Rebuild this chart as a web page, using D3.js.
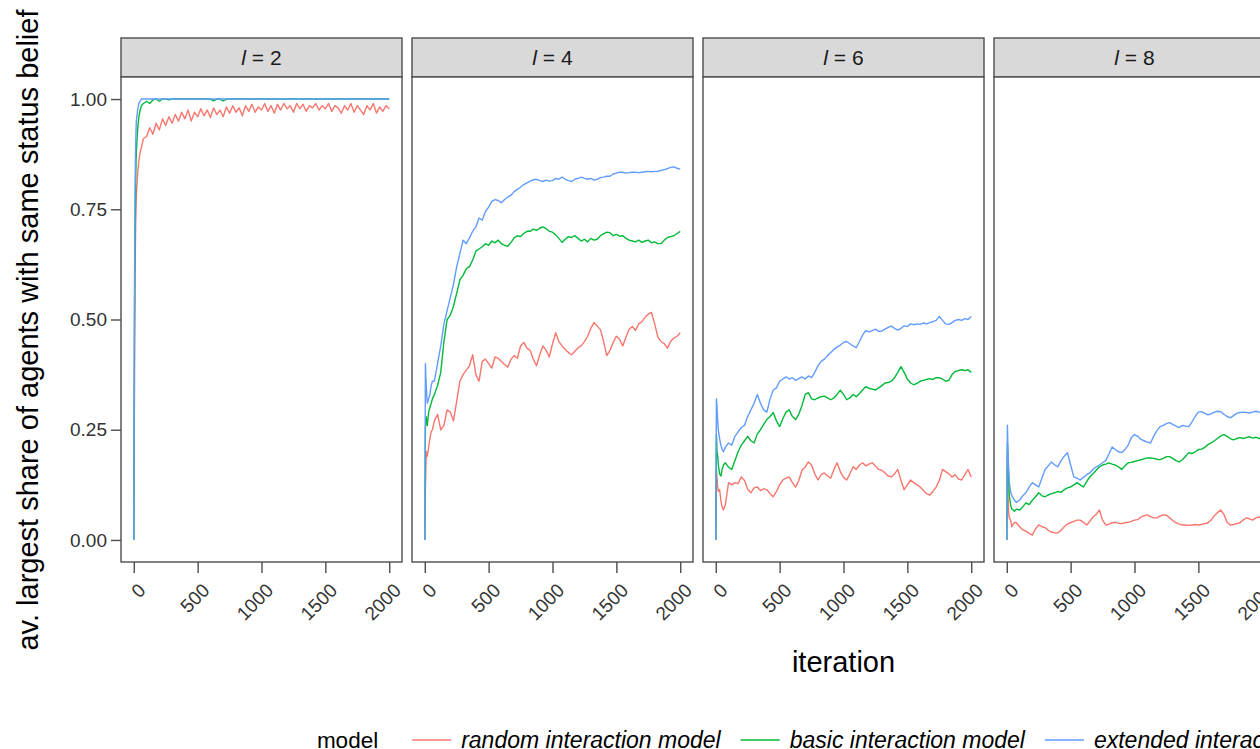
<!DOCTYPE html>
<html lang="en">
<head>
<meta charset="utf-8">
<title>Largest share of agents with same status belief</title>
<script src="https://cdnjs.cloudflare.com/ajax/libs/d3/7.8.5/d3.min.js"></script>
<style>
body { margin: 0; background: #fff; }
text { font-family: "Liberation Sans", Arial, sans-serif; }
</style>
</head>
<body>
<script>
var iterations = [0,5,10,15,20,30,40,50,60,75,
  100,125,150,175,200,225,250,275,300,325,
  350,375,400,425,450,475,500,525,550,575,
  600,625,650,675,700,725,750,775,800,825,
  850,875,900,925,950,975,1000,1025,1050,1075,
  1100,1125,1150,1175,1200,1225,1250,1275,1300,1325,
  1350,1375,1400,1425,1450,1475,1500,1525,1550,1575,
  1600,1625,1650,1675,1700,1725,1750,1775,1800,1825,
  1850,1875,1900,1925,1950,1975,2000];

// facets (l = 10 lies outside the cropped picture)
var panelLabels = ["2", "4", "6", "8", "10"];
var models = ["random interaction model", "basic interaction model", "extended interaction model"];
var yTicks = [0, 0.25, 0.5, 0.75, 1];
var xTicks = [0, 500, 1000, 1500, 2000];

// l = 2
var random2 = [0,.30,.60,.72,.78,.83,.86,.88,.89,.91,
  .915,.935,.92,.945,.93,.955,.94,.96,.945,.965,
  .95,.97,.955,.975,.95,.97,.96,.978,.962,.975,
  .958,.98,.965,.975,.96,.982,.968,.985,.97,.98,
  .962,.985,.972,.988,.97,.982,.975,.99,.972,.985,
  .968,.988,.975,.99,.978,.985,.97,.99,.978,.988,
  .972,.985,.98,.99,.975,.985,.978,.99,.972,.985,
  .98,.968,.985,.975,.99,.97,.985,.975,.965,.985,
  .975,.99,.968,.982,.972,.985,.978];
var basic2 = [0,.45,.68,.82,.88,.93,.96,.975,.985,.99,
  .995,.99,.998,1,.995,1,1,.998,1,1,
  1,1,1,1,1,1,1,1,1,1,
  1,.996,1,1,.996,1,1,1,1,1,
  1,1,1,1,1,1,1,1,1,1,
  1,1,1,1,1,1,1,1,1,1,
  1,1,1,1,1,1,1,1,1,1,
  1,1,1,1,1,1,1,1,1,1,
  1,1,1,1,1,1,1];
var extended2 = [0,.55,.80,.90,.95,.975,.99,.995,1,1,
  1,1,1,1,1,1,1,1,1,1,
  1,1,1,1,1,1,1,1,1,1,
  1,1,1,1,1,1,1,1,1,1,
  1,1,1,1,1,1,1,1,1,1,
  1,1,1,1,1,1,1,1,1,1,
  1,1,1,1,1,1,1,1,1,1,
  1,1,1,1,1,1,1,1,1,1,
  1,1,1,1,1,1,1];

// l = 4
var random4 = [0,.12,.18,.20,.19,.21,.23,.245,.25,.27,
  .285,.25,.26,.295,.29,.27,.315,.36,.375,.385,
  .395,.42,.375,.36,.405,.41,.40,.39,.415,.412,
  .405,.398,.392,.41,.418,.412,.44,.448,.435,.43,
  .41,.395,.42,.44,.43,.415,.445,.47,.45,.44,
  .432,.425,.42,.428,.436,.44,.45,.462,.48,.493,
  .485,.477,.45,.418,.43,.448,.462,.455,.44,.46,
  .478,.484,.475,.49,.495,.505,.512,.516,.49,.46,
  .45,.445,.435,.45,.458,.462,.47];
var basic4 = [0,.25,.28,.27,.26,.29,.30,.31,.32,.33,
  .35,.38,.45,.50,.51,.53,.56,.59,.60,.615,
  .62,.635,.655,.66,.665,.672,.668,.678,.674,.68,
  .672,.668,.666,.675,.685,.69,.688,.695,.70,.70,
  .705,.702,.707,.71,.706,.70,.698,.692,.684,.675,
  .682,.688,.686,.69,.684,.678,.682,.676,.684,.68,
  .682,.69,.694,.698,.697,.69,.693,.689,.69,.684,
  .68,.678,.676,.68,.675,.678,.68,.674,.676,.672,
  .672,.68,.686,.688,.69,.695,.70];
var extended4 = [0,.40,.36,.33,.31,.32,.33,.35,.36,.36,
  .40,.44,.49,.52,.55,.58,.62,.65,.68,.672,
  .685,.70,.71,.73,.725,.745,.755,.768,.772,.77,
  .765,.772,.778,.782,.79,.795,.80,.806,.81,.814,
  .817,.818,.815,.813,.816,.814,.815,.82,.818,.823,
  .818,.815,.813,.818,.82,.823,.82,.818,.82,.816,
  .818,.822,.823,.825,.825,.83,.832,.834,.834,.832,
  .833,.834,.834,.833,.834,.835,.836,.835,.836,.836,
  .838,.84,.842,.845,.846,.843,.841];

// l = 6
var random6 = [0,.16,.14,.12,.11,.114,.09,.075,.068,.08,
  .13,.125,.13,.128,.143,.135,.115,.107,.118,.12,
  .112,.116,.114,.105,.098,.11,.125,.136,.14,.143,
  .13,.12,.135,.158,.165,.177,.17,.15,.136,.148,
  .152,.145,.14,.16,.175,.155,.142,.136,.15,.166,
  .16,.17,.175,.168,.172,.175,.168,.16,.158,.152,
  .145,.143,.15,.16,.135,.114,.125,.136,.13,.125,
  .12,.112,.105,.102,.11,.12,.135,.16,.155,.15,
  .143,.148,.138,.136,.148,.16,.143];
var basic6 = [0,.24,.20,.19,.17,.15,.145,.16,.17,.175,
  .165,.16,.18,.20,.215,.225,.235,.225,.22,.24,
  .25,.262,.273,.28,.289,.27,.257,.275,.29,.295,
  .28,.273,.285,.305,.33,.334,.32,.318,.322,.325,
  .326,.322,.318,.322,.33,.34,.33,.318,.322,.33,
  .325,.332,.34,.348,.344,.342,.34,.345,.35,.356,
  .357,.36,.368,.38,.393,.38,.365,.356,.352,.355,
  .36,.362,.364,.366,.364,.368,.368,.365,.36,.362,
  .375,.382,.384,.386,.384,.386,.38];
var extended6 = [0,.32,.30,.27,.25,.23,.215,.205,.20,.21,
  .22,.215,.235,.245,.255,.26,.28,.295,.31,.33,
  .31,.295,.29,.32,.34,.345,.36,.365,.37,.365,
  .368,.362,.366,.37,.365,.372,.368,.38,.395,.405,
  .41,.418,.425,.432,.438,.442,.448,.45,.445,.44,
  .436,.45,.465,.475,.472,.475,.478,.473,.474,.478,
  .482,.485,.48,.476,.48,.486,.484,.49,.488,.49,
  .489,.492,.49,.493,.495,.498,.507,.498,.49,.489,
  .493,.498,.50,.498,.502,.50,.507];

// l = 8
var random8 = [0,.20,.10,.06,.05,.045,.03,.035,.04,.039,
  .03,.023,.02,.015,.011,.025,.034,.03,.028,.022,
  .018,.016,.016,.022,.03,.036,.039,.042,.045,.045,
  .04,.034,.042,.052,.058,.068,.045,.034,.036,.039,
  .04,.038,.037,.039,.04,.042,.045,.046,.052,.055,
  .057,.053,.05,.05,.054,.057,.056,.05,.044,.039,
  .036,.034,.034,.033,.034,.035,.034,.035,.037,.039,
  .045,.055,.062,.068,.058,.04,.034,.035,.037,.039,
  .045,.05,.048,.045,.05,.052,.05];
var basic8 = [0,.22,.19,.14,.10,.08,.07,.068,.065,.07,
  .068,.075,.084,.08,.09,.098,.107,.10,.098,.102,
  .105,.107,.11,.108,.114,.118,.12,.125,.13,.125,
  .12,.132,.143,.15,.158,.166,.17,.172,.175,.172,
  .17,.166,.16,.168,.175,.176,.178,.18,.182,.184,
  .186,.186,.185,.183,.182,.185,.189,.189,.185,.18,
  .177,.182,.19,.198,.196,.20,.205,.206,.21,.216,
  .22,.225,.23,.236,.239,.235,.23,.227,.23,.232,
  .23,.232,.234,.231,.233,.23,.232];
var extended8 = [0,.26,.20,.16,.13,.11,.10,.095,.09,.085,
  .09,.10,.107,.12,.13,.125,.12,.14,.16,.168,
  .177,.17,.166,.18,.19,.198,.17,.143,.14,.136,
  .142,.148,.152,.16,.166,.17,.175,.18,.195,.211,
  .205,.20,.198,.205,.215,.232,.239,.235,.228,.225,
  .222,.22,.235,.248,.257,.26,.264,.266,.262,.258,
  .255,.26,.258,.257,.268,.28,.29,.291,.287,.284,
  .286,.29,.292,.291,.285,.28,.277,.282,.287,.289,
  .29,.289,.288,.29,.292,.29,.291];

var seriesByPanel = [
  [random2, basic2, extended2],
  [random4, basic4, extended4],
  [random6, basic6, extended6],
  [random8, basic8, extended8],
  []
];

var colors = d3.scaleOrdinal().domain(models).range(["#F8766D", "#00BA38", "#619CFF"]);

var width = 1260, height = 749;
var plotLeft = 121, plotTop = 38;
var panelW = 281, panelGap = 10, stripH = 39, panelH = 485;
var frame = "#4d4d4d";

var svg = d3.select("body").append("svg")
  .attr("width", width)
  .attr("height", height);

svg.append("rect").attr("width", width).attr("height", height).attr("fill", "#fff");

var x = d3.scaleLinear().domain([-100, 2100]).range([0, panelW]);
var y = d3.scaleLinear().domain([-0.05, 1.05]).range([panelH, 0]);

var line = d3.line()
  .x(function(d) { return x(d[0]); })
  .y(function(d) { return y(d[1]); });

panelLabels.forEach(function(lab, i) {
  var px = plotLeft + i * (panelW + panelGap);
  var g = svg.append("g").attr("transform", "translate(" + px + "," + plotTop + ")");

  // strip
  g.append("rect")
    .attr("width", panelW).attr("height", stripH)
    .attr("fill", "#d9d9d9").attr("stroke", frame).attr("stroke-width", 1.4);
  var st = g.append("text")
    .attr("x", panelW / 2).attr("y", stripH / 2)
    .attr("dy", "0.36em")
    .attr("text-anchor", "middle")
    .attr("font-size", 21)
    .attr("fill", "#1a1a1a");
  st.append("tspan").attr("font-style", "italic").text("l");
  st.append("tspan").text(" = " + lab);

  var p = g.append("g").attr("transform", "translate(0," + stripH + ")");
  p.append("rect").attr("width", panelW).attr("height", panelH).attr("fill", "#fff");

  (seriesByPanel[i] || []).forEach(function(vals, k) {
    var pts = iterations.map(function(it, j) { return [it, vals[j]]; });
    p.append("path")
      .datum(pts)
      .attr("fill", "none")
      .attr("stroke", colors(models[k]))
      .attr("stroke-width", 1.4)
      .attr("stroke-linejoin", "round")
      .attr("d", line);
  });

  p.append("rect")
    .attr("width", panelW).attr("height", panelH)
    .attr("fill", "none").attr("stroke", frame).attr("stroke-width", 1.4);

  // x axis
  var xa = p.append("g")
    .attr("transform", "translate(0," + panelH + ")")
    .call(d3.axisBottom(x).tickValues(xTicks).tickSize(11).tickFormat(d3.format("d")));
  xa.select(".domain").remove();
  xa.selectAll(".tick line").attr("stroke", frame).attr("stroke-width", 1.4);
  xa.selectAll(".tick text")
    .attr("font-size", 19)
    .attr("fill", "#333")
    .attr("text-anchor", "end")
    .attr("x", 0).attr("y", 0).attr("dy", "0.71em")
    .attr("transform", "translate(3,20) rotate(-45)");

  if (i === 0) {
    var ya = p.append("g")
      .call(d3.axisLeft(y).tickValues(yTicks).tickSize(10).tickPadding(4).tickFormat(d3.format(".2f")));
    ya.select(".domain").remove();
    ya.selectAll(".tick line").attr("stroke", frame).attr("stroke-width", 1.4);
    ya.selectAll(".tick text").attr("font-size", 19).attr("fill", "#333");
  }
});

var nPanels = panelLabels.length;
var centerX = plotLeft + (nPanels * panelW + (nPanels - 1) * panelGap) / 2;

// axis titles
svg.append("text")
  .attr("x", centerX).attr("y", 672)
  .attr("text-anchor", "middle")
  .attr("font-size", 29)
  .attr("fill", "#000")
  .text("iteration");

svg.append("text")
  .attr("transform", "translate(38,330) rotate(-90)")
  .attr("text-anchor", "middle")
  .attr("font-size", 29)
  .attr("fill", "#000")
  .text("av. largest share of agents with same status belief");

// legend
var legY = 740;
var leg = svg.append("g");
var title = leg.append("text")
  .attr("y", legY).attr("dy", "0.36em")
  .attr("font-size", 22.5).attr("fill", "#000")
  .text("model");
var cx = title.node().getComputedTextLength() + 34;
models.forEach(function(m) {
  leg.append("line")
    .attr("x1", cx).attr("x2", cx + 39)
    .attr("y1", legY).attr("y2", legY)
    .attr("stroke", colors(m)).attr("stroke-width", 1.4);
  var t = leg.append("text")
    .attr("x", cx + 49).attr("y", legY).attr("dy", "0.36em")
    .attr("font-size", 23).attr("font-style", "italic").attr("fill", "#000")
    .text(m);
  cx += 49 + t.node().getComputedTextLength() + 20;
});
var legW = cx - 20;
leg.attr("transform", "translate(" + (centerX - legW / 2) + ",0)");
</script>
</body>
</html>
